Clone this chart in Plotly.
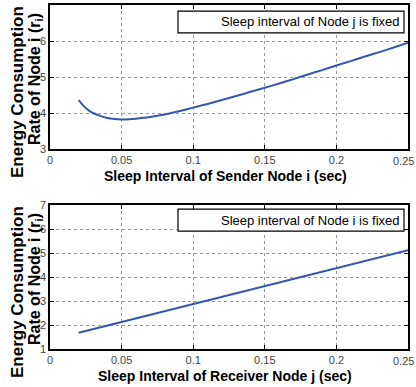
import plotly.graph_objects as go

# Top panel: sender sleep interval vs energy rate
sender_x = [0.02, 0.0225, 0.025, 0.0275, 0.03, 0.035, 0.04, 0.045, 0.05, 0.055, 0.06, 0.065,
            0.07, 0.08, 0.09, 0.10, 0.11, 0.12, 0.13, 0.14, 0.15, 0.16, 0.17, 0.18,
            0.19, 0.20, 0.21, 0.22, 0.23, 0.24, 0.25]
sender_y = [4.36, 4.24, 4.14, 4.06, 4.00, 3.92, 3.86, 3.83, 3.82, 3.825, 3.84, 3.865,
            3.89, 3.96, 4.05, 4.15, 4.25, 4.36, 4.47, 4.59, 4.70, 4.82, 4.94, 5.07,
            5.19, 5.32, 5.44, 5.57, 5.69, 5.82, 5.95]

# Bottom panel: receiver sleep interval vs energy rate
receiver_x = [0.02, 0.05, 0.10, 0.15, 0.20, 0.25]
receiver_y = [1.68, 2.13, 2.88, 3.63, 4.38, 5.12]

x_ticks = [0, 0.05, 0.1, 0.15, 0.2, 0.25]
x_tick_text = ["0", "0.05", "0.1", "0.15", "0.2", ""]
last_x_label = "0.25"
top_y_ticks = [3, 4, 5, 6, 7]
bot_y_ticks = [1, 2, 3, 4, 5, 6, 7]

legend_top = "Sleep interval of Node j is fixed"
legend_bot = "Sleep interval of Node i is fixed"
xtitle_top = "Sleep Interval of Sender Node i (sec)"
xtitle_bot = "Sleep Interval of Receiver Node j (sec)"
ytitle_l1 = "Energy Consumption"
ytitle_l2 = "Rate of Node i (r<sub>i</sub>)"

LINE = "#3556b0"
FONT = "Liberation Sans, Arial, sans-serif"
TICKFONT = dict(family=FONT, size=11, color="#444444")

fig = go.Figure()
fig.add_trace(go.Scatter(x=sender_x, y=sender_y, mode="lines",
                         line=dict(color=LINE, width=2, shape="spline", smoothing=0.6),
                         xaxis="x", yaxis="y", showlegend=False))
fig.add_trace(go.Scatter(x=receiver_x, y=receiver_y, mode="lines", line=dict(color=LINE, width=2),
                         xaxis="x2", yaxis="y2", showlegend=False))

axis_common = dict(showline=True, linecolor="black", linewidth=1.5, mirror="ticks",
                   ticks="inside", ticklen=4, tickcolor="black",
                   showgrid=True, gridcolor="#9a9a9a", griddash="dot", gridwidth=1,
                   zeroline=False, automargin=False, tickfont=TICKFONT)

fig.update_layout(
    width=416, height=387,
    margin=dict(l=50, r=8, t=5, b=38, autoexpand=False),
    plot_bgcolor="white", paper_bgcolor="white",
    xaxis=dict(domain=[0, 1], anchor="y", range=[0, 0.25], tickvals=x_ticks,
               ticktext=x_tick_text, **axis_common),
    yaxis=dict(domain=[0.5814, 1], anchor="x", range=[3, 7], tickvals=top_y_ticks, **axis_common),
    xaxis2=dict(domain=[0, 1], anchor="y2", range=[0, 0.25], tickvals=x_ticks,
                ticktext=x_tick_text, **axis_common),
    yaxis2=dict(domain=[0, 0.4186], anchor="x2", range=[1, 7], tickvals=bot_y_ticks, **axis_common),
)

# legend-like boxes
for yref, xref, y0, y1, txt in [("y domain", "x domain", 0.806, 0.958, legend_top),
                                ("y2 domain", "x2 domain", 0.819, 0.972, legend_bot)]:
    fig.add_shape(type="rect", xref=xref, yref=yref, x0=(178 - 50) / 358, x1=(404 - 50) / 358,
                  y0=y0, y1=y1, line=dict(color="black", width=1.2), fillcolor="white", layer="above")
    fig.add_annotation(xref=xref, yref=yref, x=(401 - 50) / 358, y=(y0 + y1) / 2,
                       text=txt, showarrow=False, xanchor="right", yanchor="middle",
                       font=dict(family=FONT, size=13, color="black"))

# axis titles and last tick label
for xaxis, xref, yref, txt in [("x", "x domain", "y domain", xtitle_top),
                               ("x2", "x2 domain", "y2 domain", xtitle_bot)]:
    fig.add_annotation(xref=xaxis, yref=yref, x=x_ticks[-1], y=0, yshift=-4, xshift=8,
                       text=last_x_label, showarrow=False, xanchor="right", yanchor="top",
                       font=TICKFONT)
    fig.add_annotation(xref=xref, yref=yref, x=0.49, y=-0.19, text="<b>" + txt + "</b>",
                       showarrow=False, xanchor="center", yanchor="middle",
                       font=dict(family=FONT, size=14, color="black"))
    fig.add_annotation(xref="paper", yref=yref, x=(17 - 50) / 358, y=1, yshift=1,
                       text="<b>" + ytitle_l1 + "</b>",
                       showarrow=False, xanchor="center", yanchor="top", textangle=-90,
                       font=dict(family=FONT, size=17, color="black"))
    fig.add_annotation(xref="paper", yref=yref, x=(35 - 50) / 358, y=1, yshift=-6,
                       text="<b>" + ytitle_l2 + "</b>",
                       showarrow=False, xanchor="center", yanchor="top", textangle=-90,
                       font=dict(family=FONT, size=16, color="black"))

fig.write_html("out.html")
